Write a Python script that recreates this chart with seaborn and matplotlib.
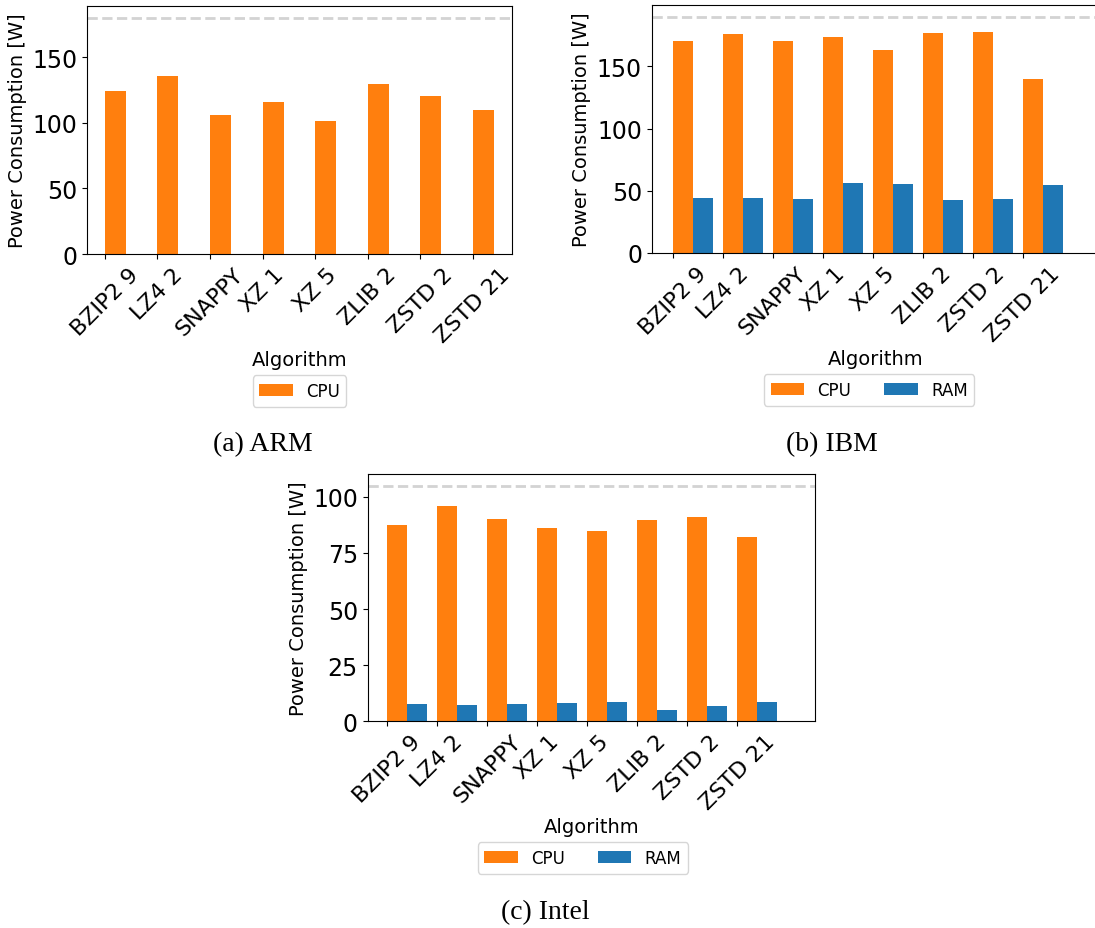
import numpy as np
import pandas as pd
import matplotlib
matplotlib.use("Agg")
import matplotlib.pyplot as plt
import seaborn as sns

# 数据：各平台压缩算法的功耗（W）
algorithms = ["BZIP2 9", "LZ4 2", "SNAPPY", "XZ 1", "XZ 5", "ZLIB 2", "ZSTD 2", "ZSTD 21"]
arm_cpu = [124.3, 135.8, 106.0, 115.9, 101.4, 129.7, 120.5, 109.8]
ibm_cpu = [170.9, 176.5, 170.9, 174.1, 163.6, 177.3, 178.1, 139.6]
ibm_ram = [44.1, 44.1, 43.3, 56.1, 55.3, 42.5, 43.3, 54.5]
intel_cpu = [87.4, 95.8, 90.1, 86.1, 84.7, 89.6, 91.0, 82.0]
intel_ram = [7.7, 7.3, 7.7, 8.2, 8.6, 5.0, 6.8, 8.6]
# 虚线：功耗上限
arm_limit = 180
ibm_limit = 190
intel_limit = 105

palette = {"CPU": "#ff7f0e", "RAM": "#1f77b4"}


def make_df(cpu, ram=None):
    rows = [(a, "CPU", v) for a, v in zip(algorithms, cpu)]
    if ram is not None:
        rows += [(a, "RAM", v) for a, v in zip(algorithms, ram)]
    return pd.DataFrame(rows, columns=["Algorithm", "Type", "Power"])


def draw(ax, df, limit, bar_width, tick_shift, xlim, leg_x, ncol, yticks):
    sns.barplot(data=df, x="Algorithm", y="Power", hue="Type",
                palette=palette, width=bar_width, gap=0, ax=ax,
                saturation=1, errorbar=None)
    ax.axhline(limit, color="lightgray", linestyle="--", linewidth=2)
    n = len(algorithms)
    ax.set_xticks(np.arange(n) - tick_shift)
    ax.set_xticklabels(algorithms, rotation=45, fontsize=16)
    ax.set_xlim(*xlim)
    ax.set_yticks(yticks)
    ax.tick_params(axis="y", labelsize=17)
    ax.set_xlabel("Algorithm", fontsize=14, labelpad=3)
    ax.set_ylabel("Power Consumption [W]", fontsize=14)
    ax.legend(loc="upper center", bbox_to_anchor=(leg_x, -0.455),
              ncol=ncol, fontsize=12, title=None)


fig = plt.figure(figsize=(10.95, 9.29), dpi=100)

ax1 = fig.add_axes([0.0795, 0.7255, 0.3881, 0.267])
draw(ax1, make_df(arm_cpu), arm_limit, 0.4, 0.2, (-0.54, 7.55), 0.5, 1,
     [0, 50, 100, 150])

ax2 = fig.add_axes([0.5952, 0.7266, 0.4094, 0.267])
draw(ax2, make_df(ibm_cpu, ibm_ram), ibm_limit, 0.8, 0.4, (-0.82, 8.15), 0.485, 2,
     [0, 50, 100, 150])

ax3 = fig.add_axes([0.3358, 0.2225, 0.4085, 0.2665])
draw(ax3, make_df(intel_cpu, intel_ram), intel_limit, 0.8, 0.4, (-0.79, 8.15), 0.481, 2,
     [0, 25, 50, 75, 100])

# 子图标题（论文样式）
cap = dict(fontsize=20, family="Liberation Serif", ha="center", va="center")
fig.text(262.7 / 1095, 1 - 445 / 929, "(a) ARM", **cap)
fig.text(831.7 / 1095, 1 - 445 / 929, "(b) IBM", **cap)
fig.text(545.8 / 1095, 1 - 913 / 929, "(c) Intel", **cap)

plt.savefig("out.png", dpi=100)
